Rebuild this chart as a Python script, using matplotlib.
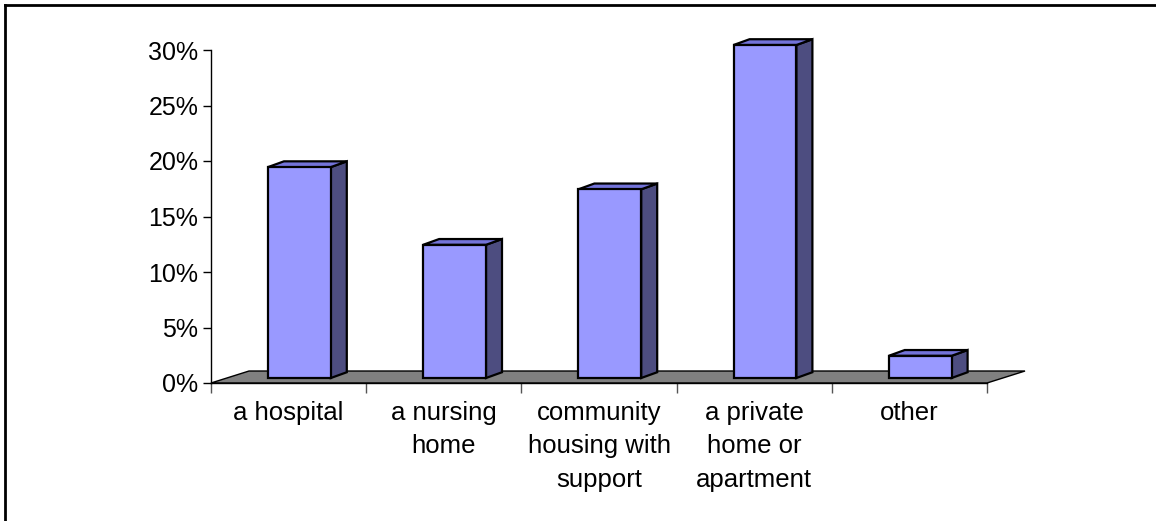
import matplotlib.pyplot as plt
from matplotlib.patches import Polygon
from matplotlib.lines import Line2D

categories = ['a hospital', 'a nursing\nhome', 'community\nhousing with\nsupport',
              'a private\nhome or\napartment', 'other']
values = [19, 12, 17, 30, 2]
yticks = [0, 5, 10, 15, 20, 25, 30]
ytick_labels = ['0%', '5%', '10%', '15%', '20%', '25%', '30%']

front_col = '#9999ff'
top_col = '#7373d9'
side_col = '#4d4d80'
floor_col = '#808080'

plt.rcParams['font.family'] = ['Liberation Sans', 'DejaVu Sans']

fig = plt.figure(figsize=(11.56, 5.21), dpi=100)
ax = fig.add_axes([211/1156, 1 - 383/521, 776/1156, 333/521])
ax.set_xlim(0, len(categories))
ax.set_ylim(0, 30)

# oblique depth of the floor and of the bars (data units)
floor_dx, floor_dy = 0.245, 1.08
bar_x0, bar_y0 = 0.103, 0.45      # front face of the bars sits a bit back
bar_dx, bar_dy = 0.103, 0.52      # thickness of the bars
bar_left, bar_w = 0.367, 0.405

n = len(categories)
floor = Polygon([(0, 0), (n, 0), (n + floor_dx, floor_dy), (floor_dx, floor_dy)],
                closed=True, facecolor=floor_col, edgecolor='black', lw=1.0,
                clip_on=False, zorder=1)
ax.add_patch(floor)

for i, v in enumerate(values):
    x0 = i + bar_left
    x1 = x0 + bar_w
    y0 = bar_y0
    y1 = bar_y0 + v
    front = [(x0, y0), (x1, y0), (x1, y1), (x0, y1)]
    top = [(x0, y1), (x1, y1), (x1 + bar_dx, y1 + bar_dy), (x0 + bar_dx, y1 + bar_dy)]
    side = [(x1, y0), (x1 + bar_dx, y0 + bar_dy), (x1 + bar_dx, y1 + bar_dy), (x1, y1)]
    for pts, c in [(side, side_col), (top, top_col), (front, front_col)]:
        ax.add_patch(Polygon(pts, closed=True, facecolor=c, edgecolor='black',
                             lw=1.6, joinstyle='miter', clip_on=False, zorder=3))

ax.set_yticks(yticks)
ax.set_yticklabels(ytick_labels, fontsize=18)
ax.tick_params(axis='y', direction='out', length=6, width=1, pad=3, colors='black')

ax.set_xticks(range(n + 1))
ax.set_xticklabels([])
ax.tick_params(axis='x', which='major', direction='out', length=7, width=1, color='#555555')
ax.set_xticks([i + 0.5 for i in range(n)], minor=True)
ax.set_xticklabels(categories, minor=True, fontsize=18.5, linespacing=1.49, va='top')
ax.tick_params(axis='x', which='minor', length=0, pad=13)

for s in ['top', 'right']:
    ax.spines[s].set_visible(False)
ax.spines['left'].set_linewidth(1)
ax.spines['bottom'].set_linewidth(1)
ax.spines['bottom'].set_zorder(2)
ax.patch.set_alpha(0)

# frame around the chart area
fig.add_artist(Line2D([5/1156, 1], [1 - 5/521, 1 - 5/521], color='black', lw=2))
fig.add_artist(Line2D([5/1156, 5/1156], [0, 1 - 5/521], color='black', lw=2))

fig.savefig('out.png', dpi=100)
